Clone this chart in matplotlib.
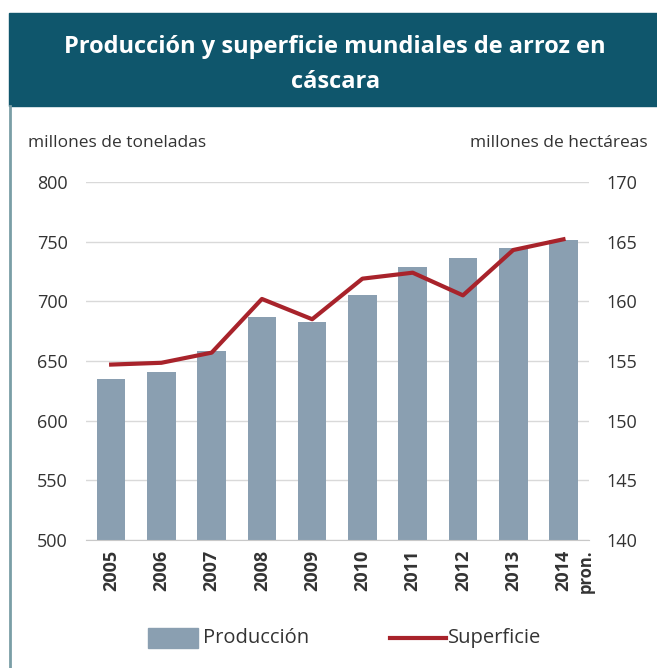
import matplotlib.pyplot as plt
from matplotlib.patches import Rectangle
from matplotlib.lines import Line2D
import numpy as np

# datos
anios = ["2005", "2006", "2007", "2008", "2009", "2010", "2011", "2012", "2013", "2014"]
produccion = [635, 641, 658, 687, 683, 705, 729, 736, 745, 751]  # millones de toneladas
superficie = [154.7, 154.85, 155.7, 160.2, 158.5, 161.9, 162.4, 160.5, 164.3, 165.2]  # millones de ha

plt.rcParams['font.family'] = ['Open Sans', 'DejaVu Sans']

color_barra = '#8a9fb1'
color_linea = '#a8232b'
color_texto = '#333333'
color_banda = '#0f566c'

fig = plt.figure(figsize=(6.57, 6.68), dpi=100)

# banda del titulo
fig.patches.append(Rectangle((9 / 657, 1 - 106 / 668), 1, 93 / 668,
                             transform=fig.transFigure, color=color_banda, zorder=0))
fig.lines.append(Line2D([10 / 657, 10 / 657], [0, 1 - 106 / 668], transform=fig.transFigure,
                        color='#7a9ea6', lw=2))
fig.text(0.51, 1 - 47 / 668, "Producción y superficie mundiales de arroz en",
         color='white', fontsize=17, fontweight='bold', ha='center', va='center')
fig.text(0.51, 1 - 82 / 668, "cáscara",
         color='white', fontsize=17, fontweight='bold', ha='center', va='center')

ax = fig.add_axes([86 / 657, 1 - 540 / 668, 502.6 / 657, 358 / 668])
x = np.arange(len(anios))
ax.bar(x, produccion, width=0.57, color=color_barra, zorder=2)
ax.set_ylim(500, 800)
ax.set_xlim(-0.5, len(anios) - 0.5)
ax.set_yticks(np.arange(500, 801, 50))
ax.yaxis.grid(True, color='#d9d9d9', lw=1)
ax.set_axisbelow(True)
ax.set_xticks(x)
ax.set_xticklabels(anios, rotation=90, fontsize=13, fontweight='bold', color=color_texto)
ax.tick_params(axis='both', length=0, labelcolor=color_texto)
ax.tick_params(axis='y', labelsize=13, pad=13)
ax.tick_params(axis='x', pad=7)
for s in ['top', 'right', 'left']:
    ax.spines[s].set_visible(False)
ax.spines['bottom'].set_color('#c8c8c8')

ax2 = ax.twinx()
ax2.plot(x, superficie, color=color_linea, lw=3, zorder=3)
ax2.set_ylim(140, 170)
ax2.set_yticks(np.arange(140, 171, 5))
ax2.tick_params(axis='y', length=0, labelsize=13, labelcolor=color_texto, pad=13)
for s in ['top', 'right', 'left', 'bottom']:
    ax2.spines[s].set_visible(False)

ax.text(x[-1] + 0.45, 492, "pron.", transform=ax.transData, rotation=90,
        ha='center', va='top', fontsize=12, fontweight='bold', color=color_texto)

fig.text(28 / 657, 1 - 143 / 668, "millones de toneladas", fontsize=12.5,
         color=color_texto, va='center', ha='left')
fig.text(648 / 657, 1 - 143 / 668, "millones de hectáreas", fontsize=12.5,
         color=color_texto, va='center', ha='right')

# leyenda
fig.patches.append(Rectangle((148 / 657, 1 - 648 / 668), 50 / 657, 20 / 668,
                             transform=fig.transFigure, color=color_barra))
fig.text(203 / 657, 1 - 638 / 668, "Producción", fontsize=14.5, color=color_texto, va='center')
fig.lines.append(Line2D([390 / 657, 446 / 657], [1 - 638 / 668, 1 - 638 / 668],
                        transform=fig.transFigure, color=color_linea, lw=3))
fig.text(448 / 657, 1 - 638 / 668, "Superficie", fontsize=14.5, color=color_texto, va='center')

fig.savefig("out.png", dpi=100)
